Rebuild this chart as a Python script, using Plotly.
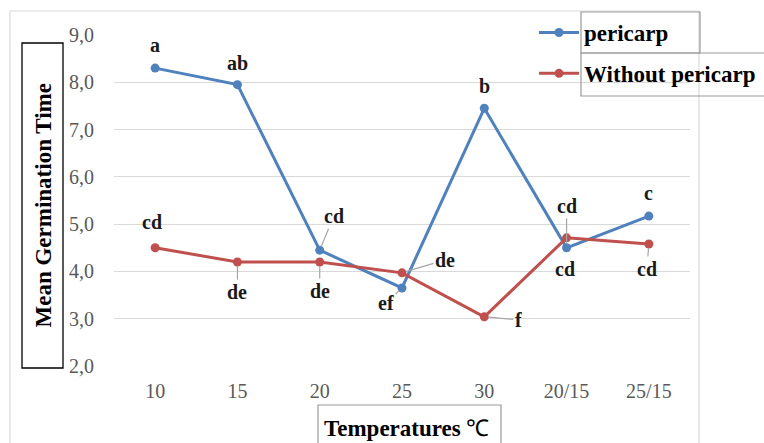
import plotly.graph_objects as go

categories = ["10", "15", "20", "25", "30", "20/15", "25/15"]
pericarp = [8.30, 7.95, 4.45, 3.65, 7.45, 4.50, 5.17]
without_pericarp = [4.50, 4.20, 4.20, 3.97, 3.04, 4.71, 4.58]
pericarp_letters = ["a", "ab", "cd", "ef", "b", "cd", "c"]
without_letters = ["cd", "de", "de", "de", "f", "cd", "cd"]
y_ticks = [2, 3, 4, 5, 6, 7, 8, 9]

W, H = 764, 443
L, R, T, B = 114, 690, 35, 366

def px(x):
    return (x - L) / (R - L)

def py(y):
    return (B - y) / (B - T)

BLUE = "#4F81BD"
RED = "#C0504D"
SERIF = "Liberation Serif, Times New Roman, serif"

fig = go.Figure()
fig.add_trace(go.Scatter(x=categories, y=pericarp, name="pericarp", mode="lines+markers",
                         line=dict(color=BLUE, width=3), marker=dict(size=9, color=BLUE),
                         legendgroup="g1"))
fig.add_trace(go.Scatter(x=categories, y=without_pericarp, name="Without pericarp", mode="lines+markers",
                         line=dict(color=RED, width=3), marker=dict(size=9, color=RED),
                         legendgroup="g2"))

# label offsets (ax, ay, leader)
p_off = [(0, -23, False), (0, -22, False), (14, -34, True), (-16, 15, True),
         (0, -22, False), (0, -42, True), (0, -23, False)]
w_off = [(-3, -26, False), (0, 30, True), (0, 29, True), (43, -13, True),
         (34, 3, True), (-2, 31, False), (-2, 25, True)]

annotations = []
for vals, letters, offs in [(pericarp, pericarp_letters, p_off), (without_pericarp, without_letters, w_off)]:
    for i, (v, t, (ax, ay, lead)) in enumerate(zip(vals, letters, offs)):
        annotations.append(dict(
            x=i, y=v, xref="x", yref="y", text=t, showarrow=True, ax=ax, ay=ay, arrowhead=0, arrowwidth=1.2,
            arrowcolor="#a6a6a6" if lead else "rgba(0,0,0,0)", standoff=4,
            font=dict(family=SERIF, size=20, color="#1a1a1a", weight="bold")))

# axis titles
annotations.append(dict(xref="paper", yref="paper", x=px(42.5), y=py(206), text="<b>Mean Germination Time</b>",
                        xanchor="center", yanchor="middle",
                        textangle=-90, showarrow=False, font=dict(family=SERIF, size=23, color="#000")))
annotations.append(dict(xref="paper", yref="paper", x=px(406), y=py(428), text="<b>Temperatures</b> ℃",
                        xanchor="center", yanchor="middle",
                        showarrow=False, font=dict(family=SERIF, size=23, color="#000")))

shapes = [
    dict(type="rect", xref="paper", yref="paper", x0=px(10), x1=px(699), y0=py(460), y1=py(11),
         line=dict(color="#d9d9d9", width=1.2), layer="below"),
    dict(type="rect", xref="paper", yref="paper", x0=px(22), x1=px(63), y0=py(368), y1=py(43),
         line=dict(color="#000", width=1.3)),
    dict(type="rect", xref="paper", yref="paper", x0=px(318), x1=px(501), y0=py(460), y1=py(405),
         line=dict(color="#999", width=1.2)),
    dict(type="rect", xref="paper", yref="paper", x0=px(581), x1=px(700), y0=py(53), y1=py(12),
         line=dict(color="#999", width=1.2)),
    dict(type="rect", xref="paper", yref="paper", x0=px(581), x1=px(780), y0=py(96), y1=py(53),
         line=dict(color="#999", width=1.2)),
]

fig.update_layout(
    width=W, height=H,
    margin=dict(l=L, r=W - R, t=T, b=H - B, pad=0, autoexpand=False),
    paper_bgcolor="white", plot_bgcolor="white",
    separators=",.",
    showlegend=True,
    legend=dict(xref="container", yref="container", x=534 / W, y=1 - 11 / H,
                xanchor="left", yanchor="top", bgcolor="rgba(0,0,0,0)",
                font=dict(family=SERIF, size=23, color="#000", weight="bold"),
                tracegroupgap=8, itemwidth=40),
    annotations=annotations,
    shapes=shapes,
    xaxis=dict(type="category", range=[-0.5, 6.5], showgrid=False, showline=False, zeroline=False,
               ticks="", ticklabelstandoff=11, automargin=False,
               tickfont=dict(family=SERIF, size=20, color="#595959")),
    yaxis=dict(range=[2, 9], tickvals=y_ticks, tickformat=".1f", showgrid=True, gridcolor="#d9d9d9",
               gridwidth=1.2, zeroline=False, showline=False, ticks="", ticklabelstandoff=19,
               automargin=False,
               tickfont=dict(family=SERIF, size=20, color="#595959")),
)

fig.write_html("out.html", config={"displayModeBar": False},
               post_script="document.body.style.margin='0';document.body.style.overflow='hidden';")
